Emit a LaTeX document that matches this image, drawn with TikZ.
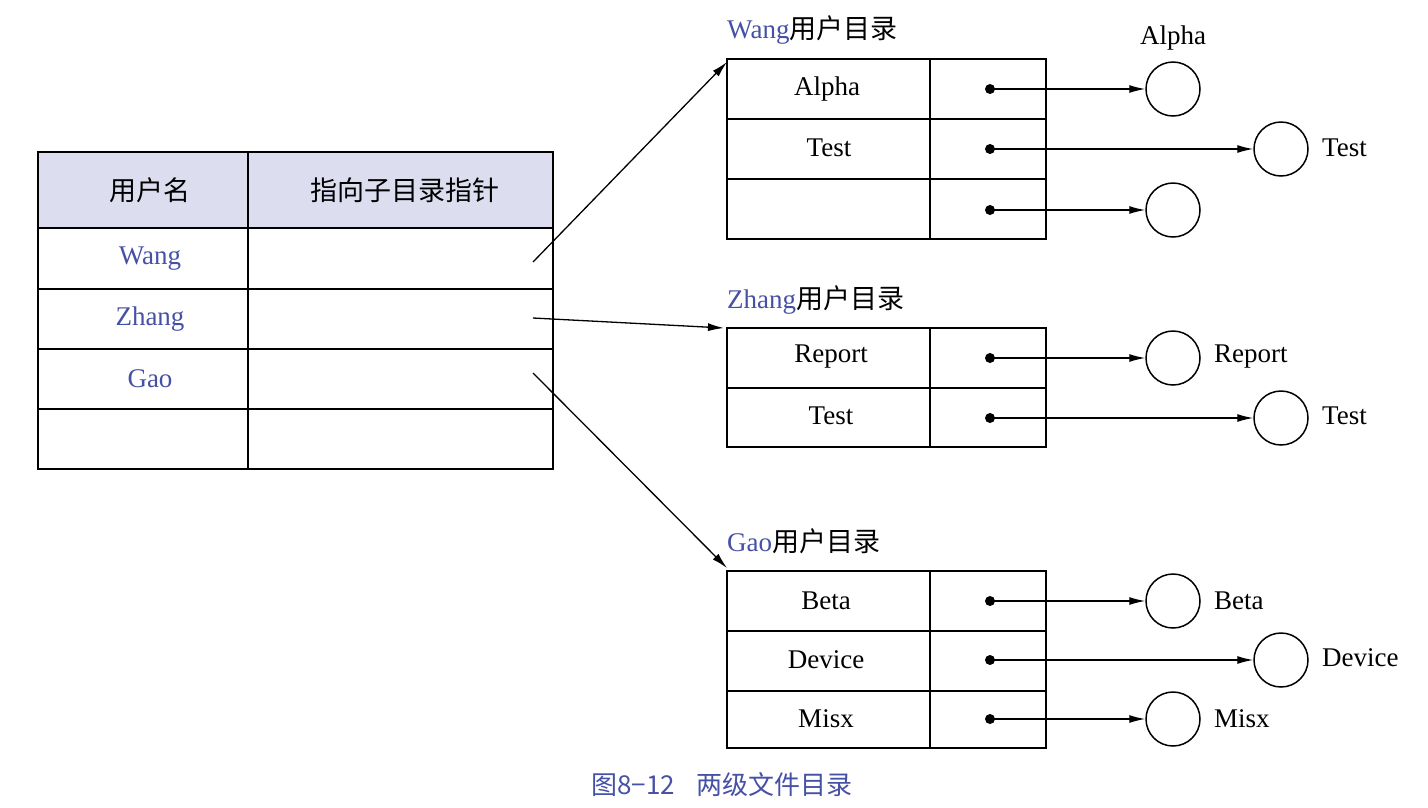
\documentclass[tikz,border=0pt]{standalone}
\usepackage{fontspec}
\setmainfont{Liberation Serif}
\newfontfamily\cjk{Noto Sans CJK SC}
\usetikzlibrary{arrows.meta}
\definecolor{tblue}{RGB}{70,80,165}
\definecolor{hdr}{RGB}{221,221,240}
\begin{document}
\begin{tikzpicture}[x=1pt,y=-1pt,
  every node/.style={font=\fontsize{27}{30}\selectfont,inner sep=0},
  ln/.style={line width=1.5pt},
  arr/.style={line width=1.3pt,-{Latex[length=16pt,width=8pt]}},
  dot/.style={circle,fill=black,minimum size=10pt},
  fc/.style={circle,draw,line width=1.5pt,minimum size=54pt}]
\useasboundingbox (0,0) rectangle (1428,807);
% left table
\fill[hdr] (38,152) rectangle (553,228);
\draw[ln] (38,152) rectangle (553,469);
\foreach \y in {228,289,349,409} \draw[ln] (38,\y) -- (553,\y);
\draw[ln] (248,152) -- (248,469);
\node at (150,190) {\cjk 用户名};
\node at (405,190) {\cjk 指向子目录指针};
\node[text=tblue] at (150,259) {Wang};
\node[text=tblue] at (150,319) {Zhang};
\node[text=tblue] at (150,379) {Gao};
\coordinate (sw) at (533,262);
\coordinate (sz) at (533,318);
\coordinate (sg) at (533,373);
% directories
\foreach \t/\b in {59/239,328/447,571/748}{
  \draw[ln] (727,\t) rectangle (1046,\b);
  \draw[ln] (930,\t) -- (930,\b);}
\foreach \y in {119,179,388,631,691} \draw[ln] (727,\y) -- (1046,\y);
\node[anchor=west] (tw) at (727,30) {\textcolor{tblue}{Wang}\cjk 用户目录};
\node[anchor=west] (tz) at (727,300) {\textcolor{tblue}{Zhang}\cjk 用户目录};
\node[anchor=west] (tg) at (727,541) {\textcolor{tblue}{Gao}\cjk 用户目录};
\coordinate (ew) at (727,62);
\coordinate (ez) at (724,328);
\coordinate (eg) at (727,568);
\draw[arr] (sw) -- (ew);
\draw[arr] (sz) -- (ez);
\draw[arr] (sg) -- (eg);
\node at (827,89) {Alpha};
\node at (829,148) {Test};
\node at (831,357) {Report};
\node at (831,416) {Test};
\node at (826,601) {Beta};
\node at (826,660) {Device};
\node at (826,719) {Misx};
% pointers
\foreach \n/\y/\cx in {a/89/1173,b/149/1281,c/210/1173,d/358/1173,e/418/1281,f/601/1173,g/660/1281,h/719/1173}{
  \node[dot] (d\n) at (990,\y) {};
  \node[fc] (c\n) at (\cx,\y) {};
  \draw[arr] (d\n.center) -- (c\n);}
\node[anchor=south] at (1173,50) {Alpha};
\node[anchor=west] at (1322,148) {Test};
\node[anchor=west] at (1214,357) {Report};
\node[anchor=west] at (1322,416) {Test};
\node[anchor=west] at (1214,601) {Beta};
\node[anchor=west] at (1322,658) {Device};
\node[anchor=west] at (1214,719) {Misx};
\node[text=tblue,font=\fontsize{26}{28}\selectfont\cjk] at (722,785) {图8−12\hspace{22pt}两级文件目录};
\end{tikzpicture}
\end{document}
